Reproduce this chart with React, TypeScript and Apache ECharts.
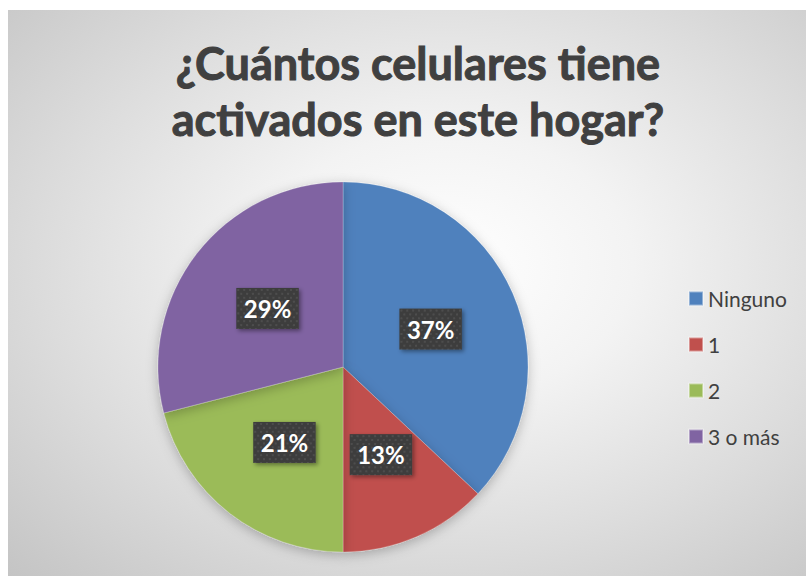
import React, { useEffect, useRef } from "react";
import * as echarts from "echarts";

const categories = ["Ninguno", "1", "2", "3 o más"];
const values = [37, 13, 21, 29];
const colors = ["#4F81BD", "#C0504D", "#9BBB59", "#8064A2"];
const titleText = "¿Cuántos celulares tiene\nactivados en este hogar?";

function makePattern(): string {
  const w = 64;
  const h = 42;
  const c = document.createElement("canvas");
  c.width = w;
  c.height = h;
  const ctx = c.getContext("2d");
  if (!ctx) return "";
  ctx.fillStyle = "#3e3e3e";
  ctx.fillRect(0, 0, w, h);
  ctx.fillStyle = "#4e4e4e";
  for (let y = 1, row = 0; y < h; y += 4, row++) {
    for (let x = (row % 2) * 3 + 1; x < w; x += 6) {
      ctx.fillRect(x, y, 2, 2);
    }
  }
  return c.toDataURL();
}

export default function App() {
  const ref = useRef<HTMLDivElement>(null);
  useEffect(() => {
    if (!ref.current) return;
    const chart = echarts.init(ref.current, undefined, { renderer: "svg" });
    const pattern = makePattern();
    chart.setOption({
      animation: false,
      backgroundColor: "transparent",
      title: {
        text: titleText,
        left: 405,
        top: 20,
        textAlign: "center",
        textStyle: {
          fontFamily: "Lato",
          fontWeight: "bold",
          fontSize: 45,
          lineHeight: 56,
          color: "#404040",
          textBorderColor: "#404040",
          textBorderWidth: 1,
        },
      },
      legend: {
        orient: "vertical",
        left: 680,
        top: 278,
        padding: 0,
        itemWidth: 14,
        itemHeight: 14,
        itemGap: 25,
        icon: "rect",
        data: categories,
        textStyle: { fontFamily: "Lato", fontSize: 21, color: "#404040" },
      },
      series: [
        {
          type: "pie",
          center: [335, 357],
          radius: 185,
          startAngle: 90,
          clockwise: true,
          data: categories.map((c, i) => ({ name: c, value: values[i], itemStyle: { color: colors[i] } })),
          itemStyle: {
            borderColor: "rgba(255,255,255,0.4)",
            borderWidth: 0.5,
            shadowBlur: 12,
            shadowColor: "rgba(0,0,0,0.25)",
            shadowOffsetY: 3,
          },
          label: {
            show: true,
            position: "inside",
            formatter: "{d}%",
            fontFamily: "Lato",
            fontWeight: "bold",
            fontSize: 24,
            color: "#ffffff",
            backgroundColor: pattern ? { image: pattern } : "#404040",
            padding: [9, 9, 8, 9],
            shadowBlur: 4,
            shadowOffsetX: 2,
            shadowOffsetY: 2,
            shadowColor: "rgba(0,0,0,0.4)",
          },
          labelLine: { show: false },
          emphasis: { disabled: true },
        },
      ],
    });
    return () => chart.dispose();
  }, []);
  return (
    <div style={{ position: "fixed", left: 0, top: 0, width: 806, height: 576, background: "#ffffff" }}>
      <div
        style={{
          position: "absolute",
          left: 8,
          top: 10,
          width: 798,
          height: 566,
          background: "radial-gradient(ellipse at 55% 45%, #ffffff 0%, #f3f3f3 30%, #dcdcdc 65%, #c4c4c4 100%)",
        }}
      >
        <div ref={ref} style={{ width: 798, height: 566 }} />
      </div>
    </div>
  );
}
